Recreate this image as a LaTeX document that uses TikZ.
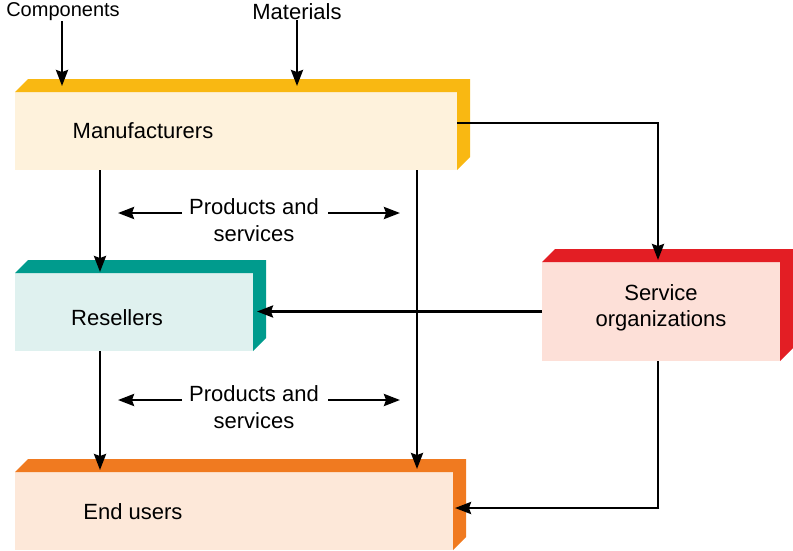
\documentclass[tikz,border=0pt]{standalone}
\usepackage{fontspec}
\setmainfont{Liberation Sans}
\usetikzlibrary{arrows.meta}
\definecolor{mfrfront}{HTML}{FEF2DC}
\definecolor{mfrband}{HTML}{F9B812}
\definecolor{resfront}{HTML}{DFF1EF}
\definecolor{resband}{HTML}{009B8D}
\definecolor{svcfront}{HTML}{FDE0D8}
\definecolor{svcband}{HTML}{E31E24}
\definecolor{endfront}{HTML}{FDE8D9}
\definecolor{endband}{HTML}{F07A20}
\newcommand{\extrude}[2]{%
  \fill[#2] (#1.north west) -- ++(13,-13) -- ([shift={(13,-13)}]#1.north east)
    -- ([shift={(13,-13)}]#1.south east) -- (#1.south east) -- (#1.north east) -- cycle;}
\tikzset{
  face/.style={rectangle, draw=none, inner sep=0pt, outer sep=0pt, anchor=north west},
  lbl/.style={font=\fontsize{22}{26.5}\selectfont, inner sep=0pt, align=center},
  arr/.style={line width=2.6pt, -{Stealth[length=16pt,width=12pt,inset=2pt]}},
  ln/.style={line width=2.6pt}
}
\begin{document}
\begin{tikzpicture}[x=1pt,y=-1pt]
\useasboundingbox (0,0) rectangle (793,550);
% boxes
\node[face, fill=mfrfront, minimum width=442pt, minimum height=78pt] (mfr) at (15,92) {};
\extrude{mfr}{mfrband}
\node[face, fill=resfront, minimum width=238pt, minimum height=78pt] (res) at (15,273) {};
\extrude{res}{resband}
\node[face, fill=svcfront, minimum width=238pt, minimum height=99pt] (svc) at (542,262) {};
\extrude{svc}{svcband}
\node[face, fill=endfront, minimum width=438pt, minimum height=78pt] (end) at (15,472) {};
\extrude{end}{endband}
% labels
\node[lbl] (mfrt) at (143,131) {Manufacturers};
\node[lbl] (rest) at (117,318) {Resellers};
\node[lbl] (svct) at (661,308) {Service\\organizations};
\node[lbl] (endt) at (133,512) {End users};
\node[lbl, font=\fontsize{20}{24}\selectfont] (comp) at (63,12) {Components};
\node[lbl] (mat) at (297,12) {Materials};
\node[lbl] (ps1) at (254,220) {Products and\\services};
\node[lbl] (ps2) at (254,407) {Products and\\services};
% coordinates
\coordinate (xa) at (100,0);
\coordinate (xb) at (417,0);
\coordinate (compend) at (62,86);
\coordinate (matend) at (297,86);
\coordinate (mfrout) at (457,123);
\coordinate (turn) at (658,123);
\coordinate (svctop) at (658,260);
\coordinate (svcbot) at (658,361);
\coordinate (endin) at (455,508);
\coordinate (p1l) at (118,213);
\coordinate (p1a) at (182,213);
\coordinate (p1b) at (328,213);
\coordinate (p1r) at (400,213);
\coordinate (p2l) at (118,400);
\coordinate (p2a) at (182,400);
\coordinate (p2b) at (328,400);
\coordinate (p2r) at (400,400);
% connectors
\draw[arr] (comp.south -| compend) -- (compend);
\draw[arr] (mat.south) -- (matend);
\draw[arr] (xa |- mfr.south) -- ([yshift=1pt]xa |- res.north);
\draw[arr] (xb |- mfr.south) -- ([yshift=3pt]xb |- end.north);
\draw[arr] (mfrout) -- (turn) -- (svctop);
\draw[arr] (svc.west) -- ([xshift=4pt]svc.west -| res.east);
\draw[arr] (xa |- res.south) -- ([yshift=2pt]xa |- end.north);
\draw[ln] (svcbot) -- (svcbot |- endin);
\draw[arr] ([xshift=1.3pt]svcbot |- endin) -- (endin);
\draw[arr] (p1a) -- (p1l);
\draw[arr] (p1b) -- (p1r);
\draw[arr] (p2a) -- (p2l);
\draw[arr] (p2b) -- (p2r);
\end{tikzpicture}
\end{document}
